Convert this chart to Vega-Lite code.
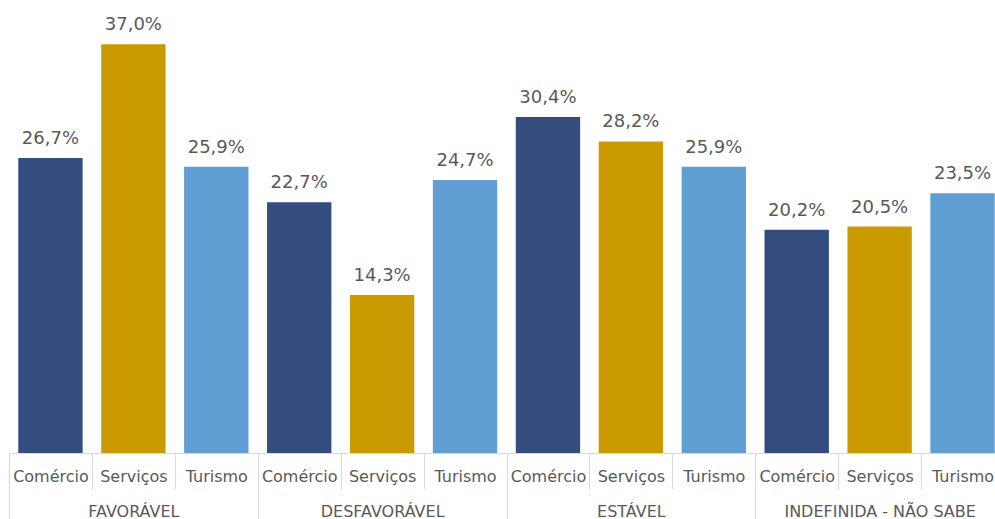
{
  "$schema": "https://vega.github.io/schema/vega-lite/v6.json",
  "width": 995,
  "height": 453,
  "autosize": {"type": "none"},
  "padding": {"left": 9, "top": 0, "right": 0, "bottom": 66},
  "background": "white",
  "config": {
    "view": {"stroke": null},
    "locale": {"number": {"decimal": ",", "thousands": ".", "grouping": [3], "currency": ["R$", ""]}},
    "font": "DejaVu Sans"
  },
  "layer": [
    {
      "data": {"values": [
        {"k": "FAVORÁVEL|Comércio", "grupo": "FAVORÁVEL", "setor": "Comércio", "v": 0.267},
        {"k": "FAVORÁVEL|Serviços", "grupo": "FAVORÁVEL", "setor": "Serviços", "v": 0.370},
        {"k": "FAVORÁVEL|Turismo", "grupo": "FAVORÁVEL", "setor": "Turismo", "v": 0.259},
        {"k": "DESFAVORÁVEL|Comércio", "grupo": "DESFAVORÁVEL", "setor": "Comércio", "v": 0.227},
        {"k": "DESFAVORÁVEL|Serviços", "grupo": "DESFAVORÁVEL", "setor": "Serviços", "v": 0.143},
        {"k": "DESFAVORÁVEL|Turismo", "grupo": "DESFAVORÁVEL", "setor": "Turismo", "v": 0.247},
        {"k": "ESTÁVEL|Comércio", "grupo": "ESTÁVEL", "setor": "Comércio", "v": 0.304},
        {"k": "ESTÁVEL|Serviços", "grupo": "ESTÁVEL", "setor": "Serviços", "v": 0.282},
        {"k": "ESTÁVEL|Turismo", "grupo": "ESTÁVEL", "setor": "Turismo", "v": 0.259},
        {"k": "INDEFINIDA - NÃO SABE|Comércio", "grupo": "INDEFINIDA - NÃO SABE", "setor": "Comércio", "v": 0.202},
        {"k": "INDEFINIDA - NÃO SABE|Serviços", "grupo": "INDEFINIDA - NÃO SABE", "setor": "Serviços", "v": 0.205},
        {"k": "INDEFINIDA - NÃO SABE|Turismo", "grupo": "INDEFINIDA - NÃO SABE", "setor": "Turismo", "v": 0.235}
      ]},
      "encoding": {
        "x": {
          "field": "k", "type": "nominal", "sort": null,
          "scale": {"paddingInner": 0, "paddingOuter": 0},
          "axis": {
            "title": null,
            "labelExpr": "split(datum.label, '|')[1]",
            "labelAngle": 0,
            "labelFont": "DejaVu Sans",
            "labelFontSize": 16,
            "labelColor": "#595959",
            "labelBaseline": "middle",
            "labelPadding": -13,
            "labelLimit": 0,
            "tickBand": "extent",
            "tickSize": 36,
            "tickColor": "#D9D9D9",
            "tickWidth": 1,
            "domainColor": "#D9D9D9",
            "domainWidth": 1
          }
        },
        "y": {
          "field": "v", "type": "quantitative",
          "scale": {"domain": [0, 0.41], "nice": false, "zero": true},
          "axis": null
        }
      },
      "layer": [
        {
          "mark": {"type": "bar", "width": {"band": 0.776}},
          "encoding": {
            "color": {
              "field": "setor", "type": "nominal",
              "scale": {"domain": ["Comércio", "Serviços", "Turismo"], "range": ["#354C7F", "#CB9A00", "#609ED3"]},
              "legend": null
            }
          }
        },
        {
          "mark": {"type": "text", "baseline": "alphabetic", "dy": -14, "fontSize": 18, "font": "DejaVu Sans", "color": "#595959"},
          "encoding": {
            "text": {"field": "v", "type": "quantitative", "format": ".1%"}
          }
        }
      ]
    },
    {
      "data": {"values": [
        {"grupo": "FAVORÁVEL"},
        {"grupo": "DESFAVORÁVEL"},
        {"grupo": "ESTÁVEL"},
        {"grupo": "INDEFINIDA - NÃO SABE"}
      ]},
      "mark": {"type": "rule", "opacity": 0},
      "encoding": {
        "x": {
          "field": "grupo", "type": "nominal", "sort": null,
          "scale": {"paddingInner": 0, "paddingOuter": 0},
          "axis": {
            "orient": "bottom",
            "title": null,
            "labelAngle": 0,
            "labelFont": "DejaVu Sans",
            "labelFontSize": 16,
            "labelColor": "#595959",
            "labelBaseline": "middle",
            "labelPadding": -12,
            "labelLimit": 0,
            "tickBand": "extent",
            "tickSize": 70,
            "tickColor": "#D9D9D9",
            "tickWidth": 1,
            "domain": false
          }
        }
      }
    }
  ],
  "resolve": {"scale": {"x": "independent"}, "axis": {"x": "independent"}}
}
